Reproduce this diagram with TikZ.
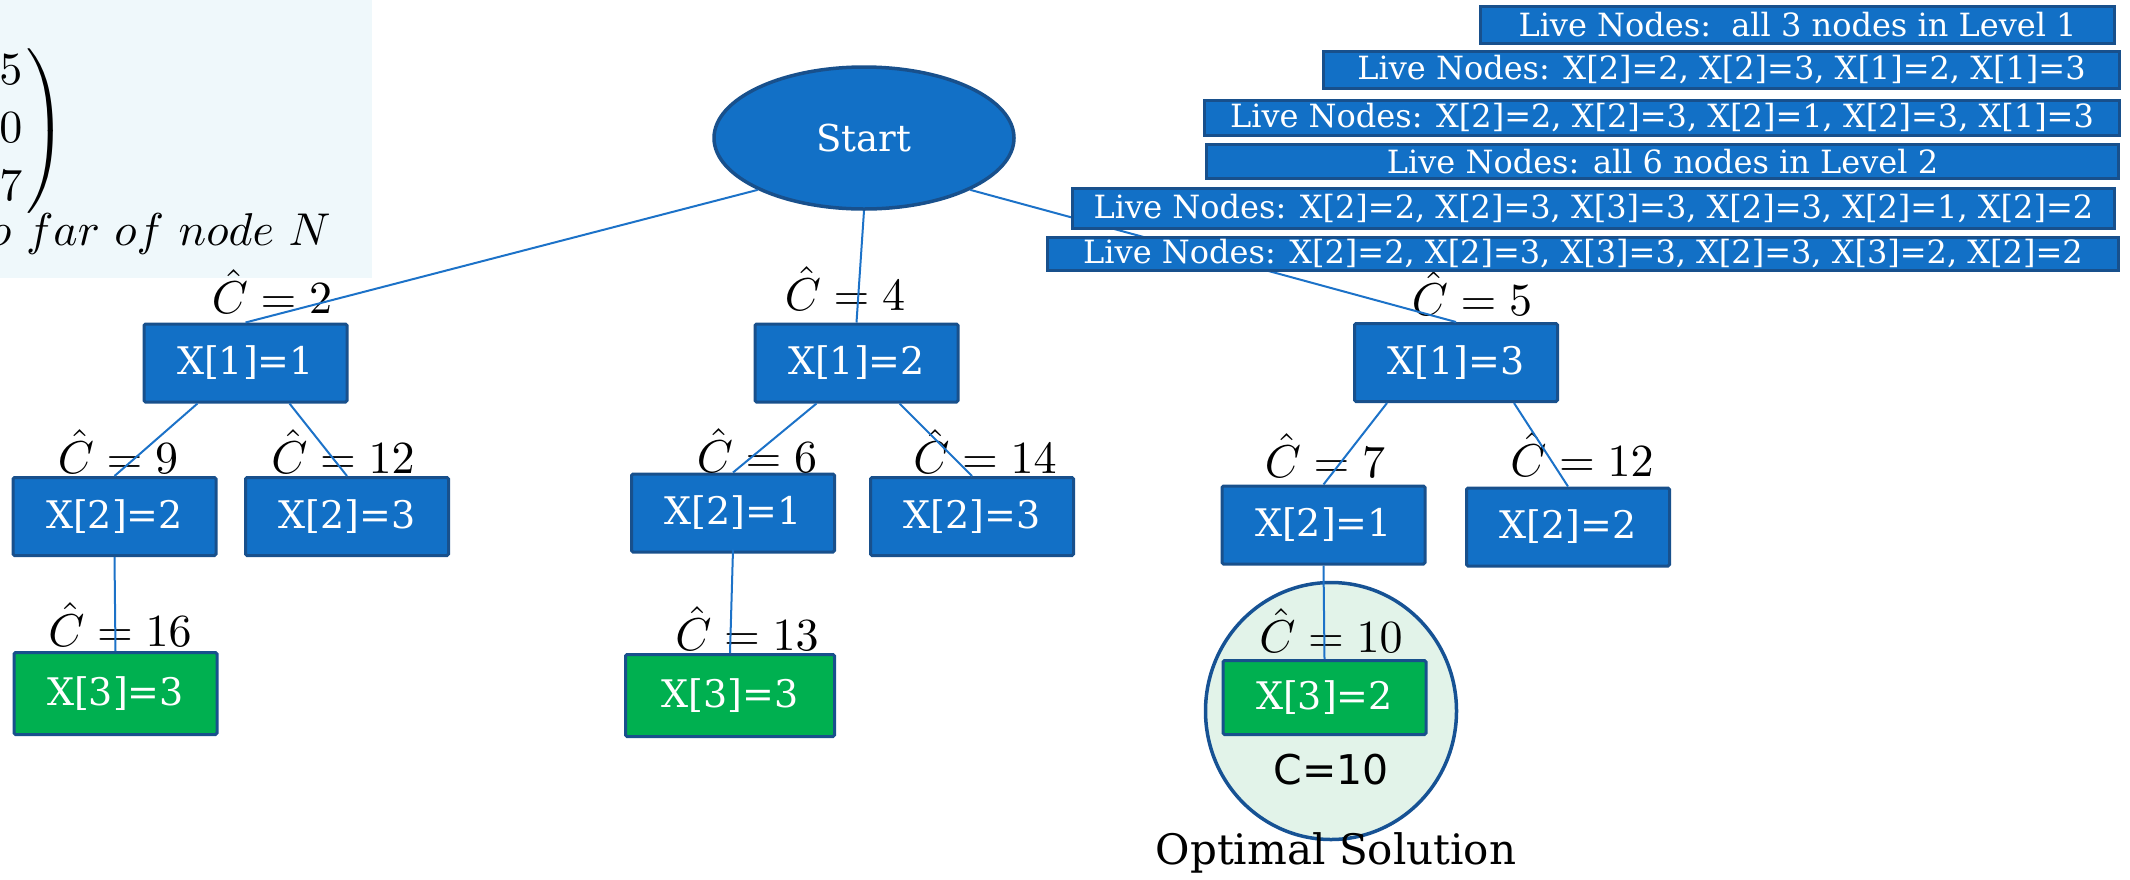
\documentclass[tikz,border=0pt]{standalone}
\usepackage{fontspec}
\setmainfont{DejaVu Serif}
\newfontfamily\sansC{DejaVu Sans}
\usetikzlibrary{shapes.geometric}
\definecolor{boxblue}{RGB}{18,112,198}
\definecolor{boxedge}{RGB}{24,80,140}
\definecolor{greenfill}{RGB}{0,176,80}
\definecolor{edgeblue}{RGB}{28,114,200}
\definecolor{circfill}{RGB}{226,243,233}
\definecolor{circedge}{RGB}{22,82,148}
\definecolor{panelbg}{RGB}{239,248,251}
\newcommand{\ccost}[1]{\scalebox{4.6}{$\hat{C} = #1$}}
\begin{document}
\begin{tikzpicture}[x=1pt,y=-1pt,
  treebox/.style={draw=boxedge, line width=3pt, fill=boxblue, text=white,
    font=\fontsize{38}{40}\selectfont, inner sep=0pt, rounded corners=1.5pt,
    minimum width=203pt, minimum height=78pt},
  leafbox/.style={treebox, fill=greenfill},
  livebox/.style={draw=boxedge, line width=3pt, fill=boxblue, text=white,
    font=\fontsize{32}{34}\selectfont, inner sep=0pt},
  costlbl/.style={anchor=base, inner sep=0pt},
  link/.style={draw=edgeblue, line width=2pt}
]
\useasboundingbox (0,0) rectangle (2130,879);

% top-left panel (clipped)
\fill[panelbg] (0,0) rectangle (372,278);
\begin{scope}
  \clip (0,0) rectangle (372,278);
  \node[anchor=east, inner sep=0pt] (mat) at (67,131)
    {\scalebox{4.6}{$\left.\renewcommand{\arraystretch}{1.05}\begin{array}{@{}r@{\hspace{0.9pt}}}5\\10\\7\end{array}\right)$}};
  \node[anchor=base east, inner sep=0pt] (sofar) at (331,245)
    {\scalebox{4.6}{$o\ far\ of\ node\ N$}};
\end{scope}

% optimal circle
\node[ellipse, draw=circedge, line width=3.5pt, fill=circfill,
  minimum width=251pt, minimum height=257pt] (optc) at (1331,711) {};

% start
\node[ellipse, draw=boxedge, line width=3.5pt, fill=boxblue, text=white,
  minimum width=300pt, minimum height=142pt, font=\fontsize{37}{40}\selectfont] (start) at (864,138) {Start};

% level 1
\node[treebox] (x11) at (245.5,363) {X[1]=1};
\node[treebox] (x12) at (856.5,363) {X[1]=2};
\node[treebox] (x13) at (1456,362.5) {X[1]=3};
% level 2
\node[treebox] (x22a) at (114.5,516.5) {X[2]=2};
\node[treebox] (x23a) at (347,516.5) {X[2]=3};
\node[treebox] (x21b) at (733,513) {X[2]=1};
\node[treebox] (x23b) at (972,516.5) {X[2]=3};
\node[treebox] (x21c) at (1323.5,525) {X[2]=1};
\node[treebox] (x22c) at (1568,527) {X[2]=2};
% level 3
\node[leafbox, minimum height=82pt] (x33a) at (115.5,693.5) {X[3]=3};
\node[leafbox, minimum width=209pt, minimum height=82pt] (x33b) at (730,695.5) {X[3]=3};
\node[leafbox, minimum height=74pt] (x32c) at (1324.5,697.5) {X[3]=2};

% cost labels
\node[costlbl] (c11) at (272,313) {\ccost{2}};
\node[costlbl] (c12) at (845,310) {\ccost{4}};
\node[costlbl] (c13) at (1472,315) {\ccost{5}};
\node[costlbl] (c22a) at (118,473) {\ccost{9}};
\node[costlbl] (c23a) at (343,473) {\ccost{12}};
\node[costlbl] (c21b) at (757,472) {\ccost{6}};
\node[costlbl] (c23b) at (985,473) {\ccost{14}};
\node[costlbl] (c21c) at (1325,477) {\ccost{7}};
\node[costlbl] (c22c) at (1582,476) {\ccost{12}};
\node[costlbl] (c33a) at (120,646) {\ccost{16}};
\node[costlbl] (c33b) at (747,650) {\ccost{13}};
\node[costlbl] (c32c) at (1331,652) {\ccost{10}};

% connectors
\draw[link] (start.206) -- (x11.north);
\draw[link] (start.south) -- (x12.north);
\draw[link] (start.334) -- (x13.north);
\draw[link] ([xshift=-48pt]x11.south) -- (x22a.north);
\draw[link] ([xshift=44pt]x11.south) -- (x23a.north);
\draw[link] (x22a.south) -- (x33a.north);
\draw[link] ([xshift=-40pt]x12.south) -- (x21b.north);
\draw[link] ([xshift=43pt]x12.south) -- (x23b.north);
\draw[link] ([yshift=4pt]x21b.south) -- (x33b.north);
\draw[link] ([xshift=-69pt]x13.south) -- (x21c.north);
\draw[link] ([xshift=58pt]x13.south) -- (x22c.north);
\draw[link] (x21c.south) -- (x32c.north);

% live node list
\node[livebox, minimum width=634pt, minimum height=37pt] (live1) at (1797.5,25) {Live Nodes:\ \ all 3 nodes in Level 1};
\node[livebox, minimum width=796pt, minimum height=37pt] (live2) at (1721.5,70) {Live Nodes: X[2]=2, X[2]=3, X[1]=2, X[1]=3};
\node[livebox, minimum width=915pt, minimum height=35pt] (live3) at (1662,118) {Live Nodes: X[2]=2, X[2]=3, X[2]=1, X[2]=3, X[1]=3};
\node[livebox, minimum width=912pt, minimum height=34pt] (live4) at (1662.5,161.5) {Live Nodes: all 6 nodes in Level 2};
\node[livebox, minimum width=1042pt, minimum height=40pt] (live5) at (1593.5,208.5) {Live Nodes: X[2]=2, X[2]=3, X[3]=3, X[2]=3, X[2]=1, X[2]=2};
\node[livebox, minimum width=1071pt, minimum height=33pt] (live6) at (1583,254) {Live Nodes: X[2]=2, X[2]=3, X[3]=3, X[2]=3, X[3]=2, X[2]=2};

% optimal solution texts
\node[font=\sansC\fontsize{41}{44}\selectfont, inner sep=0pt] (cval) at (1331,770) {C=10};
\node[font=\fontsize{42}{44}\selectfont, inner sep=0pt] (optlbl) at (1336,853) {Optimal Solution};
\end{tikzpicture}
\end{document}
